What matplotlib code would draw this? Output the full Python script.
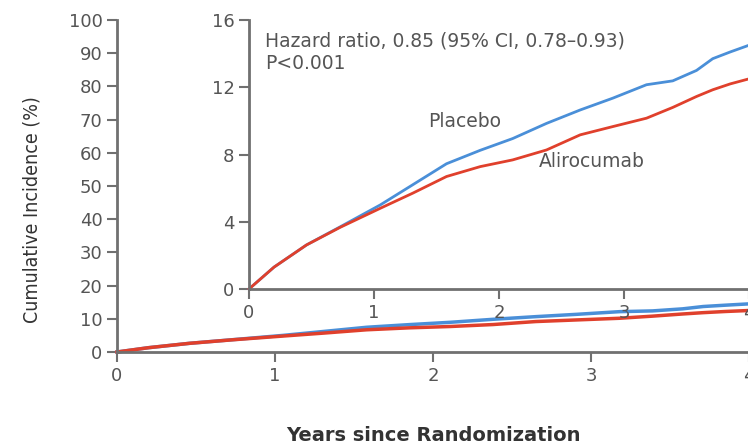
import numpy as np
import matplotlib
matplotlib.use('Agg')
import matplotlib.pyplot as plt

# data (years, cumulative incidence %)
years = [0, 0.2, 0.46, 0.73, 1.05, 1.31, 1.58, 1.85, 2.11, 2.38, 2.65, 2.91, 3.18, 3.39, 3.58, 3.71, 3.85, 4.0]
placebo = [0, 1.3, 2.62, 3.7, 5.0, 6.2, 7.45, 8.25, 8.95, 9.85, 10.65, 11.35, 12.15, 12.38, 13.0, 13.7, 14.1, 14.5]
alirocumab = [0, 1.3, 2.62, 3.67, 4.8, 5.7, 6.69, 7.28, 7.68, 8.27, 9.17, 9.66, 10.16, 10.8, 11.45, 11.85, 12.2, 12.5]

main_yticks = list(range(0, 101, 10))
inset_yticks = [0, 4, 8, 12, 16]
xticks = [0, 1, 2, 3, 4]

blue = '#4a8fd8'
red = '#e0402c'
txt = '#555555'
spine = '#707070'

plt.rcParams['font.family'] = ['DejaVu Sans']

W, H = 748, 447
fig = plt.figure(figsize=(W/100, H/100), dpi=100)

def style(ax):
    for s in ['top', 'right']:
        ax.spines[s].set_visible(False)
    for s in ['left', 'bottom']:
        ax.spines[s].set_color(spine)
        ax.spines[s].set_linewidth(2)
    ax.tick_params(colors=spine, labelcolor=txt, width=1.5, length=7, labelsize=13)

ax = fig.add_axes([117/W, (H-352)/H, 632/W, 332/H])
ax.plot(years, placebo, color=blue, lw=2.5, clip_on=False)
ax.plot(years, alirocumab, color=red, lw=2.5, clip_on=False)
ax.set_xlim(0, 4)
ax.set_ylim(0, 100)
ax.set_xticks(xticks)
ax.set_yticks(main_yticks)
style(ax)
ax.set_xlabel('Years since Randomization', fontsize=14, fontweight='bold', color='#333333', labelpad=30)
ax.set_ylabel('Cumulative Incidence (%)', fontsize=14, color='#333333', fontstretch='condensed',
              fontweight='medium')
ax.yaxis.set_label_coords(-0.12, 0.428)

ins = fig.add_axes([249/W, (H-289)/H, 500/W, 269/H])
ins.set_facecolor('white')
ins.plot(years, placebo, color=blue, lw=2, clip_on=False)
ins.plot(years, alirocumab, color=red, lw=2, clip_on=False)
ins.set_xlim(0, 4)
ins.set_ylim(0, 16)
ins.set_xticks(xticks)
ins.set_yticks(inset_yticks)
style(ins)
ins.text(0.13, 15.3, 'Hazard ratio, 0.85 (95% CI, 0.78\u20130.93)\nP<0.001', fontsize=13.5,
         color=txt, va='top', ha='left', linespacing=1.2)
ins.text(1.43, 9.95, 'Placebo', fontsize=13.5, color=txt, va='center', ha='left')
ins.text(2.32, 7.6, 'Alirocumab', fontsize=13.5, color=txt, va='center', ha='left')

fig.savefig('out.png', dpi=100)
